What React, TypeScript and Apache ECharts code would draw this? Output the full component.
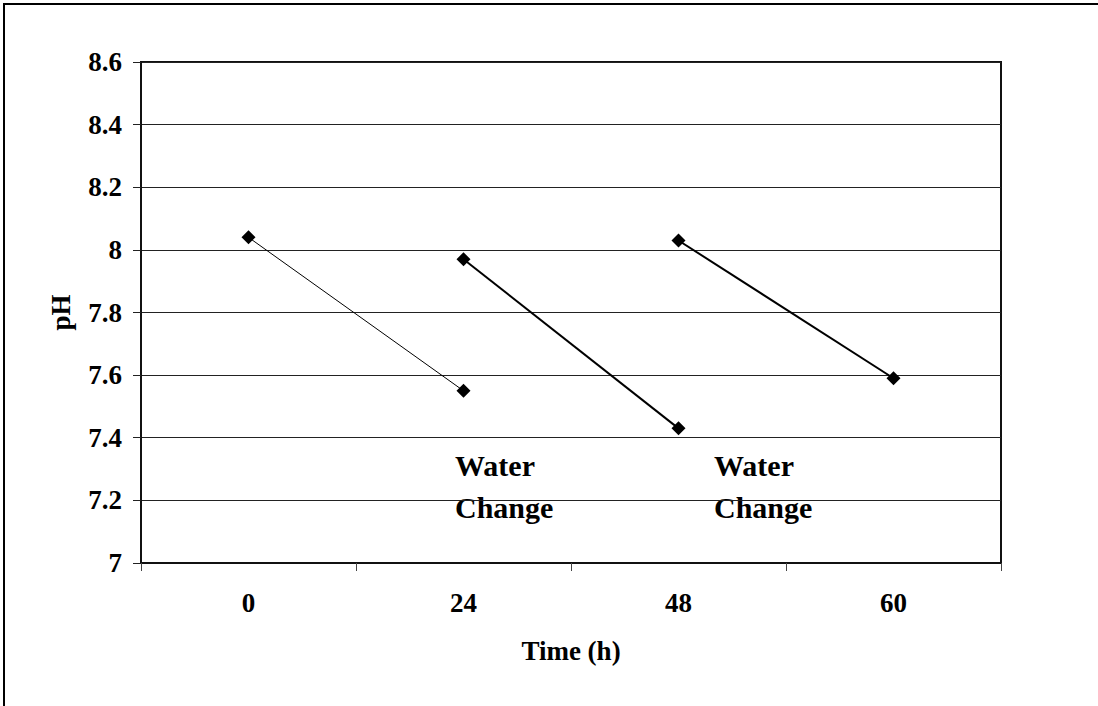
import React, { useEffect, useRef } from "react";
import * as echarts from "echarts";

const categories = ["0", "24", "48", "60"];
const series1 = [8.04, 7.55, "-", "-"];
const series2 = ["-", 7.97, 7.43, "-"];
const series3 = ["-", "-", 8.03, 7.59];
const yTicks = { min: 7, max: 8.6, interval: 0.2 };
const annotations = ["Water", "Change"];

const FONT = "'Liberation Serif', 'Times New Roman', serif";

export default function App() {
  const ref = useRef<HTMLDivElement>(null);
  useEffect(() => {
    if (!ref.current) return;
    const chart = echarts.init(ref.current, undefined, { renderer: "svg" });
    const mk = (data: any[], width: number) => ({
      type: "line",
      data,
      symbol: "diamond",
      symbolSize: 14,
      connectNulls: false,
      lineStyle: { color: "#000", width },
      itemStyle: { color: "#000" },
      emphasis: { disabled: true },
    });
    const annText = annotations.join("\n");
    chart.setOption({
      animation: false,
      backgroundColor: "#fff",
      grid: {
        left: 141,
        top: 62,
        right: 97,
        bottom: 143,
        show: true,
        borderColor: "#111",
        borderWidth: 2,
        backgroundColor: "transparent",
      },
      xAxis: {
        type: "category",
        data: categories,
        boundaryGap: true,
        name: "Time (h)",
        nameLocation: "middle",
        nameGap: 74,
        nameTextStyle: { fontFamily: FONT, fontWeight: "bold", fontSize: 27, color: "#000" },
        axisLine: { lineStyle: { color: "#111", width: 2 } },
        axisTick: { show: true, length: 8, lineStyle: { color: "#444", width: 1 } },
        axisLabel: { margin: 26, fontFamily: FONT, fontWeight: "bold", fontSize: 27, color: "#000" },
        splitLine: { show: false },
      },
      yAxis: {
        type: "value",
        min: yTicks.min,
        max: yTicks.max,
        interval: yTicks.interval,
        name: "pH",
        nameLocation: "middle",
        nameGap: 67,
        nameTextStyle: { fontFamily: FONT, fontWeight: "bold", fontSize: 27, color: "#000" },
        axisLine: { show: true, lineStyle: { color: "#111", width: 2 } },
        axisTick: { show: true, length: 8, lineStyle: { color: "#222", width: 1 } },
        axisLabel: { margin: 19, fontFamily: FONT, fontWeight: "bold", fontSize: 27, color: "#000" },
        splitLine: { show: true, lineStyle: { color: "#222", width: 1 } },
      },
      series: [mk(series1, 1), mk(series2, 2), mk(series3, 2)],
      graphic: [
        {
          type: "rect",
          shape: { x: 4, y: 4, width: 1300, height: 900 },
          style: { fill: "none", stroke: "#000", lineWidth: 2 },
          silent: true,
        },
        {
          type: "text",
          x: 455,
          y: 444,
          style: {
            text: annText,
            font: `bold 30px ${FONT}`,
            fill: "#000",
            lineHeight: 42,
          },
        },
        {
          type: "text",
          x: 714,
          y: 444,
          style: {
            text: annText,
            font: `bold 30px ${FONT}`,
            fill: "#000",
            lineHeight: 42,
          },
        },
      ],
    });
    return () => chart.dispose();
  }, []);
  return (
    <div
      ref={ref}
      style={{ position: "absolute", left: 0, top: 0, width: 1098, height: 706, background: "#fff" }}
    />
  );
}
